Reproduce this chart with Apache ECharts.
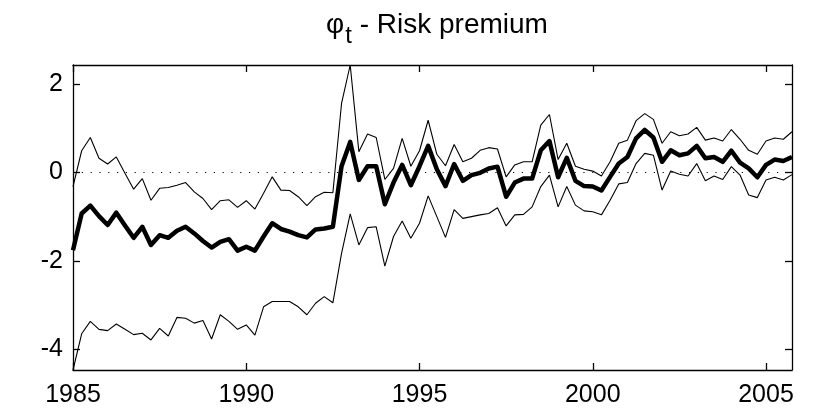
<!DOCTYPE html>
<html>
<head>
<meta charset="utf-8">
<script src="https://cdn.jsdelivr.net/npm/echarts@6/dist/echarts.min.js"></script>
<style>
  html, body { margin: 0; padding: 0; background: #fff; }
  #chart { width: 814px; height: 412px; }
</style>
</head>
<body>
<div id="chart"></div>
<script>
// Quarterly estimates, 1985Q1 .. 2005Q4
var startYear = 1985;
var quarterStep = 0.25;

// Posterior median of the risk premium
var median = [
  -1.76, -0.93, -0.75, -0.99, -1.19, -0.91, -1.20, -1.48, -1.23, -1.64,
  -1.42, -1.48, -1.32, -1.23, -1.38, -1.55, -1.70, -1.57, -1.51, -1.77,
  -1.68, -1.77, -1.45, -1.15, -1.28, -1.34, -1.42, -1.47, -1.29, -1.27,
  -1.23, 0.14, 0.69, -0.17, 0.14, 0.14, -0.72, -0.23, 0.17, -0.29,
  0.14, 0.60, 0.07, -0.31, 0.19, -0.19, -0.06, -0.01, 0.09, 0.13,
  -0.55, -0.23, -0.14, -0.14, 0.50, 0.71, -0.11, 0.33, -0.19, -0.31,
  -0.32, -0.41, -0.10, 0.20, 0.35, 0.77, 0.96, 0.79, 0.24, 0.50,
  0.39, 0.43, 0.60, 0.32, 0.35, 0.24, 0.49, 0.22, 0.09, -0.11,
  0.17, 0.29, 0.26, 0.35
];

// Upper band
var upper = [
  -0.32, 0.49, 0.79, 0.32, 0.19, 0.35, -0.02, -0.38, -0.14, -0.63,
  -0.36, -0.34, -0.29, -0.23, -0.44, -0.59, -0.84, -0.64, -0.62, -0.79,
  -0.64, -0.83, -0.47, -0.10, -0.40, -0.41, -0.55, -0.75, -0.55, -0.45,
  -0.46, 1.56, 2.43, 0.47, 0.87, 0.79, -0.16, 0.09, 0.77, 0.14,
  0.49, 1.18, 0.41, 0.15, 0.63, 0.24, 0.32, 0.50, 0.56, 0.53,
  -0.10, 0.17, 0.24, 0.24, 1.07, 1.31, 0.29, 0.66, 0.14, 0.07,
  0.03, -0.08, 0.24, 0.66, 0.73, 1.17, 1.33, 1.20, 0.66, 0.92,
  0.83, 0.87, 1.02, 0.73, 0.78, 0.71, 0.97, 0.75, 0.50, 0.41,
  0.71, 0.78, 0.75, 0.92
];

// Lower band
var lower = [
  -4.47, -3.65, -3.37, -3.55, -3.58, -3.43, -3.55, -3.67, -3.64, -3.79,
  -3.53, -3.70, -3.28, -3.30, -3.41, -3.35, -3.77, -3.22, -3.37, -3.55,
  -3.45, -3.68, -3.04, -2.92, -2.92, -2.92, -3.04, -3.22, -2.96, -2.81,
  -2.95, -1.83, -0.94, -1.64, -1.25, -1.23, -2.12, -1.45, -1.10, -1.49,
  -1.15, -0.53, -1.00, -1.47, -0.84, -1.04, -1.00, -0.96, -0.93, -0.80,
  -1.21, -0.96, -0.95, -0.78, -0.32, -0.06, -0.78, -0.32, -0.74, -0.87,
  -0.89, -0.96, -0.63, -0.26, -0.23, 0.20, 0.43, 0.39, -0.40, 0.03,
  -0.04, -0.08, 0.20, -0.19, -0.08, -0.16, 0.13, -0.06, -0.51, -0.57,
  -0.17, -0.11, -0.17, -0.05
];

var xTicks = [1985, 1990, 1995, 2000, 2005];
var yTicks = [-4, -2, 0, 2];

function pairs(values) {
  return values.map(function (v, i) { return [startYear + i * quarterStep, v]; });
}

var FONT = 'Liberation Sans, Arial, Helvetica, sans-serif';
var TICK_SIZE = 25;
var TITLE_SIZE = 28;
var xMax = startYear + (median.length - 1) * quarterStep;
var yMin = Math.min.apply(null, lower);
var yMax = Math.max.apply(null, upper);

var frameLine = { color: '#000', width: 1.3 };

function plain(v) { return String(v); }

function xAxisDef(pos, showLabels) {
  return {
    type: 'value', position: pos, min: startYear, max: xMax,
    axisLine: { show: true, onZero: false, lineStyle: frameLine },
    axisTick: { show: true, inside: true, length: 7, customValues: xTicks, lineStyle: frameLine },
    axisLabel: {
      show: showLabels, customValues: xTicks, formatter: plain, color: '#000',
      fontSize: TICK_SIZE, fontFamily: FONT, margin: 13
    },
    splitLine: { show: false }
  };
}

function yAxisDef(pos, showLabels) {
  return {
    type: 'value', position: pos, min: yMin, max: yMax,
    axisLine: { show: true, onZero: false, lineStyle: frameLine },
    axisTick: { show: true, inside: true, length: 7, customValues: yTicks, lineStyle: frameLine },
    axisLabel: {
      show: showLabels, customValues: yTicks, formatter: plain, color: '#000',
      fontSize: TICK_SIZE, fontFamily: FONT, margin: 10
    },
    splitLine: { show: false }
  };
}

var chart = echarts.init(document.getElementById('chart'), null, { renderer: 'canvas' });

chart.setOption({
  animation: false,
  backgroundColor: '#fff',
  title: {
    text: '{a|\u03c6}{b|t}{a| - Risk premium}',
    left: 432, top: 6, textAlign: 'center',
    textStyle: {
      fontWeight: 'normal',
      rich: {
        a: { fontSize: TITLE_SIZE, fontFamily: FONT, fontWeight: 'normal', color: '#000', verticalAlign: 'top' },
        b: { fontSize: TITLE_SIZE * 0.85, fontFamily: FONT, fontWeight: 'normal', color: '#000', verticalAlign: 'top', padding: [13, 0, 0, 1] }
      }
    }
  },
  grid: { left: 73, right: 22, top: 65, bottom: 42, containLabel: false },
  xAxis: [xAxisDef('bottom', true), xAxisDef('top', false)],
  yAxis: [yAxisDef('left', true), yAxisDef('right', false)],
  series: [
    {
      name: 'lower', type: 'line', data: pairs(lower), symbol: 'none',
      lineStyle: { color: '#000', width: 1.1 }, z: 2
    },
    {
      name: 'upper', type: 'line', data: pairs(upper), symbol: 'none',
      lineStyle: { color: '#000', width: 1.1 }, z: 2
    },
    {
      name: 'median', type: 'line', data: pairs(median), symbol: 'none',
      lineStyle: { color: '#000', width: 4.5, join: 'round' }, z: 3,
      markLine: {
        silent: true, symbol: ['none', 'none'], label: { show: false },
        lineStyle: { color: '#000', width: 1, type: [1.2, 7.6] },
        data: [{ yAxis: 0 }]
      }
    }
  ]
});
</script>
</body>
</html>
